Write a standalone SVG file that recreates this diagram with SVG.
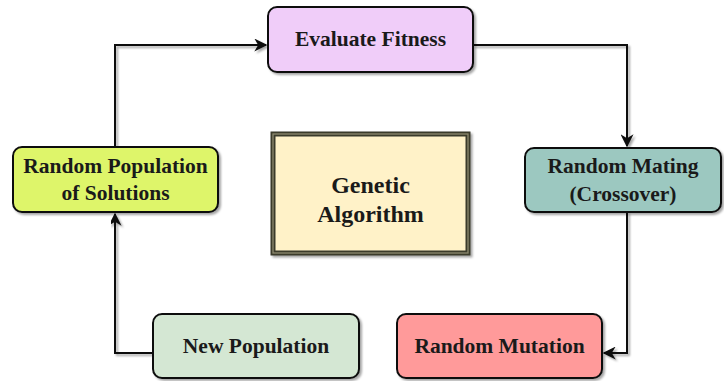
<svg xmlns="http://www.w3.org/2000/svg" width="724" height="381" viewBox="0 0 724 381">
<defs>
<filter id="sh" x="-10%" y="-10%" width="130%" height="130%">
<feDropShadow dx="2" dy="2" stdDeviation="1.2" flood-color="#000" flood-opacity="0.35"/>
</filter>
<marker id="arr" viewBox="0 0 10 10" refX="9" refY="5" markerWidth="6.5" markerHeight="6.5" orient="auto" markerUnits="strokeWidth">
<path d="M0,0 L10,5 L0,10 L3,5 Z" fill="#111"/>
</marker>
<style>
.n{stroke:#111;stroke-width:2;filter:url(#sh)}
.t{font-family:"Liberation Serif","Times New Roman",serif;font-weight:bold;font-size:21.5px;fill:#1a1a1a;text-anchor:middle}
.big{font-size:24px}
.c{fill:none;stroke:#111;stroke-width:2;filter:url(#sh)}
</style>
</defs>
<rect width="724" height="381" fill="#fff"/>
<g id="connectors">
<path class="c" d="M115,147 L115,45 L266,45" marker-end="url(#arr)"/>
<path class="c" d="M473,45 L627,45 L627,146" marker-end="url(#arr)"/>
<path class="c" d="M627,212 L627,353 L604,353" marker-end="url(#arr)"/>
<path class="c" d="M397,353 L361,353" marker-end="url(#arr)"/>
<path class="c" d="M153,353 L115,353 L115,214" marker-end="url(#arr)"/>
</g>
<g id="evaluate">
<rect class="n" x="268" y="7" width="205" height="65" rx="9" fill="#F0CDF9"/>
<text class="t" x="370.5" y="46">Evaluate Fitness</text>
</g>
<g id="population">
<rect class="n" x="13" y="147" width="205" height="65" rx="9" fill="#DEF56A"/>
<text class="t" x="115.5" y="173">Random Population</text>
<text class="t" x="115.5" y="200">of Solutions</text>
</g>
<g id="mating">
<rect class="n" x="525" y="148" width="196" height="64" rx="9" fill="#9CC8C0"/>
<text class="t" x="623" y="173">Random Mating</text>
<text class="t" x="623" y="201">(Crossover)</text>
</g>
<g id="genetic">
<rect x="273" y="134" width="195" height="119" fill="#FFF2C8" stroke="#3a3a2c" stroke-width="5" filter="url(#sh)"/>
<rect x="273" y="134" width="195" height="119" fill="none" stroke="#8e8a70" stroke-width="1.3"/>
<text class="t big" x="370.5" y="193">Genetic</text>
<text class="t big" x="370.5" y="222">Algorithm</text>
</g>
<g id="newpop">
<rect class="n" x="153" y="314" width="206" height="64" rx="9" fill="#D4E7D3"/>
<text class="t" x="256" y="353">New Population</text>
</g>
<g id="mutation">
<rect class="n" x="397" y="314" width="205" height="64" rx="9" fill="#FF9A9A"/>
<text class="t" x="499.5" y="353">Random Mutation</text>
</g>
</svg>
